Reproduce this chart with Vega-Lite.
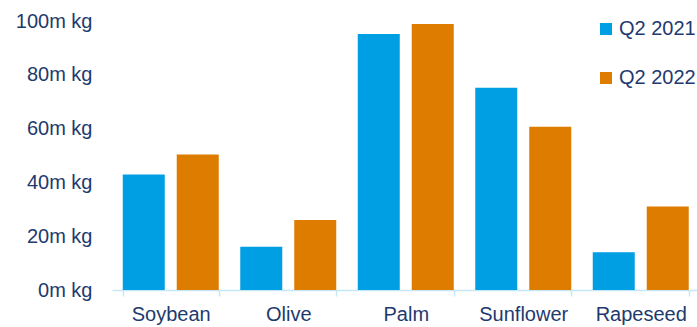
{
  "$schema": "https://vega.github.io/schema/vega-lite/v6.json",
  "width": 587.5,
  "height": 269,
  "autosize": {"type": "none"},
  "padding": {"left": 112, "top": 21, "right": 0, "bottom": 37},
  "background": "white",
  "config": {
    "view": {"stroke": null},
    "font": "Liberation Sans",
    "axis": {"labelFont": "Liberation Sans", "labelColor": "#1E3A6E", "labelFontSize": 20, "grid": false, "title": null},
    "legend": {"labelFont": "Liberation Sans", "labelColor": "#1E3A6E", "labelFontSize": 20}
  },
  "data": {
    "values": [
      {"oil": "Soybean", "quarter": "Q2 2021", "value": 42.9},
      {"oil": "Soybean", "quarter": "Q2 2022", "value": 50.4},
      {"oil": "Olive", "quarter": "Q2 2021", "value": 16.1},
      {"oil": "Olive", "quarter": "Q2 2022", "value": 26.0},
      {"oil": "Palm", "quarter": "Q2 2021", "value": 95.2},
      {"oil": "Palm", "quarter": "Q2 2022", "value": 98.9},
      {"oil": "Sunflower", "quarter": "Q2 2021", "value": 75.2},
      {"oil": "Sunflower", "quarter": "Q2 2022", "value": 60.7},
      {"oil": "Rapeseed", "quarter": "Q2 2021", "value": 14.0},
      {"oil": "Rapeseed", "quarter": "Q2 2022", "value": 31.0}
    ]
  },
  "mark": {"type": "bar"},
  "encoding": {
    "x": {
      "field": "oil",
      "type": "nominal",
      "sort": ["Soybean", "Olive", "Palm", "Sunflower", "Rapeseed"],
      "scale": {"paddingInner": 0.183, "paddingOuter": 0.0915},
      "axis": {
        "labelAngle": 0,
        "domainColor": "#C5E8F7",
        "domainWidth": 1.5,
        "tickColor": "#C5E8F7",
        "tickWidth": 1.5,
        "tickSize": 6,
        "tickBand": "extent",
        "labelPadding": 8
      }
    },
    "xOffset": {
      "field": "quarter",
      "type": "nominal",
      "scale": {"paddingInner": 0.222, "paddingOuter": 0}
    },
    "y": {
      "field": "value",
      "type": "quantitative",
      "scale": {"domain": [0, 100], "nice": false},
      "axis": {
        "values": [0, 20, 40, 60, 80, 100],
        "labelExpr": "datum.value + 'm kg'",
        "domain": false,
        "ticks": false,
        "labelPadding": 20
      }
    },
    "color": {
      "field": "quarter",
      "type": "nominal",
      "scale": {"domain": ["Q2 2021", "Q2 2022"], "range": ["#009FE3", "#DE7C00"]},
      "legend": {
        "title": null,
        "orient": "none",
        "legendX": 484,
        "legendY": -2,
        "symbolType": "square",
        "symbolSize": 144,
        "symbolStrokeWidth": 0,
        "rowPadding": 29,
        "labelOffset": 3,
        "padding": 0
      }
    }
  }
}
